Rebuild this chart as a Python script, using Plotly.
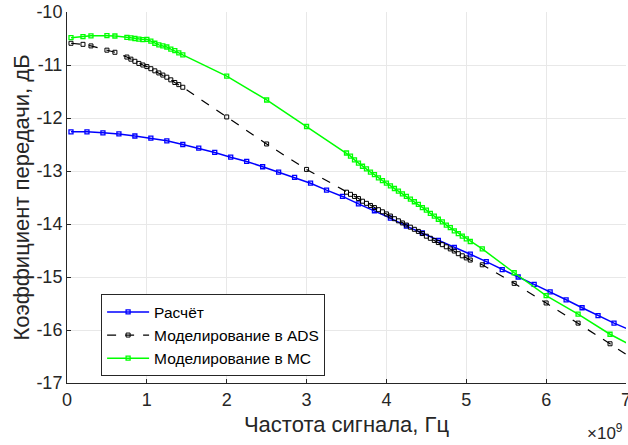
import plotly.graph_objects as go

# Frequency grid for the analytical curve (GHz, axis scaled by 1e9)
f_calc = [0.05, 0.25, 0.45, 0.65, 0.85, 1.05, 1.25, 1.45, 1.65, 1.85, 2.05, 2.25,
          2.45, 2.65, 2.85, 3.05, 3.25, 3.45, 3.65, 3.85, 4.05, 4.25, 4.45, 4.65,
          4.85, 5.05, 5.25, 5.45, 5.65, 5.85, 6.05, 6.25, 6.45, 6.65, 6.85, 7.05]
s_calc = [-12.26, -12.26, -12.28, -12.30, -12.34, -12.38, -12.43, -12.50, -12.57, -12.65,
          -12.74, -12.82, -12.92, -13.02, -13.12, -13.23, -13.36, -13.48, -13.62, -13.75,
          -13.89, -14.04, -14.17, -14.31, -14.44, -14.57, -14.71, -14.86, -15.00, -15.14,
          -15.28, -15.43, -15.58, -15.73, -15.87, -16.00]

# Frequency grid for the simulations
f_sim = [0.05, 0.2, 0.3, 0.5, 0.6, 0.75, 0.8, 0.85, 0.9, 0.95, 1.0, 1.05, 1.1, 1.15,
         1.2, 1.25, 1.3, 1.35, 1.4, 1.45, 2.0, 2.5, 3.0, 3.5, 3.55, 3.6, 3.65, 3.7,
         3.75, 3.8, 3.85, 3.9, 3.95, 4.0, 4.05, 4.1, 4.15, 4.2, 4.25, 4.3, 4.35, 4.4,
         4.45, 4.5, 4.55, 4.6, 4.65, 4.7, 4.75, 4.8, 4.85, 4.9, 4.95, 5.0, 5.05, 5.2,
         5.6, 6.0, 6.4, 6.8, 7.2]
s_ads = [-10.59, -10.61, -10.64, -10.72, -10.76, -10.85, -10.89, -10.93, -10.97, -11.00,
         -11.03, -11.07, -11.11, -11.15, -11.19, -11.23, -11.28, -11.33, -11.37, -11.42,
         -11.98, -12.49, -12.97, -13.40, -13.44, -13.48, -13.52, -13.57, -13.61, -13.65,
         -13.69, -13.73, -13.77, -13.81, -13.85, -13.90, -13.94, -13.98, -14.02, -14.06,
         -14.10, -14.14, -14.18, -14.23, -14.27, -14.31, -14.35, -14.39, -14.43, -14.47,
         -14.51, -14.56, -14.60, -14.64, -14.68, -14.77, -15.12, -15.49, -15.87, -16.26,
         -16.66]
s_mc = [-10.485, -10.466, -10.45, -10.447, -10.453, -10.477, -10.49, -10.50, -10.51, -10.52,
        -10.515, -10.55, -10.59, -10.62, -10.64, -10.66, -10.70, -10.73, -10.77, -10.81,
        -11.21, -11.66, -12.16, -12.66, -12.72, -12.79, -12.85, -12.91, -12.96, -13.02,
        -13.07, -13.13, -13.18, -13.23, -13.28, -13.33, -13.38, -13.43, -13.48, -13.53,
        -13.58, -13.63, -13.69, -13.74, -13.80, -13.85, -13.91, -13.96, -14.02, -14.07,
        -14.13, -14.18, -14.23, -14.28, -14.33, -14.47, -14.92, -15.35, -15.70, -16.08,
        -16.40]

names = ["Расчёт", "Моделирование в ADS", "Моделирование в MC"]
x_ticks = [0, 1, 2, 3, 4, 5, 6, 7]
y_ticks = [-17, -16, -15, -14, -13, -12, -11, -10]

FONT = "Liberation Sans, Arial, sans-serif"
TXT = "#262626"

fig = go.Figure()
fig.add_trace(go.Scatter(x=f_calc, y=s_calc, name=names[0], mode="lines+markers",
                         line=dict(color="#0000ff", width=1.5),
                         marker=dict(symbol="square-open", size=4, color="#0000ff",
                                     line=dict(width=1.3))))
fig.add_trace(go.Scatter(x=f_sim, y=s_ads, name=names[1], mode="lines+markers",
                         line=dict(color="#000000", width=1.2, dash="dash"),
                         marker=dict(symbol="square-open", size=4, color="#000000",
                                     line=dict(width=1))))
fig.add_trace(go.Scatter(x=f_sim, y=s_mc, name=names[2], mode="lines+markers",
                         line=dict(color="#00ff00", width=1.5),
                         marker=dict(symbol="square-open", size=4, color="#00ff00",
                                     line=dict(width=1.3))))

fig.update_layout(
    width=628, height=445,
    margin=dict(l=67, r=2, t=12, b=62),
    paper_bgcolor="white", plot_bgcolor="white",
    font=dict(family=FONT, color=TXT),
    showlegend=True,
    legend=dict(x=0.061, y=0.018, xanchor="left", yanchor="bottom",
                bgcolor="white", bordercolor=TXT, borderwidth=1,
                font=dict(size=15.5, color="#000000"),
                tracegroupgap=0, itemwidth=42),
    xaxis=dict(range=[0, 7], tickvals=x_ticks, ticktext=[str(v) for v in x_ticks],
               automargin=False, ticklabeloverflow="allow",
               showgrid=True, gridcolor="#e8e8e8", gridwidth=1,
               showline=True, linecolor=TXT, linewidth=1,
               ticks="inside", ticklen=4, tickcolor=TXT,
               tickfont=dict(size=18, color=TXT),
               zeroline=False,
               title=dict(text="Частота сигнала, Гц", font=dict(size=22, color=TXT),
                          standoff=8)),
    yaxis=dict(range=[-17, -10], tickvals=y_ticks, ticktext=[str(v) for v in y_ticks],
               automargin=False, ticklabeloverflow="allow",
               showgrid=True, gridcolor="#e8e8e8", gridwidth=1,
               showline=True, linecolor=TXT, linewidth=1,
               ticks="inside", ticklen=4, tickcolor=TXT,
               tickfont=dict(size=18, color=TXT),
               zeroline=False,
               title=dict(text="Коэффициент передачи, дБ", font=dict(size=22, color=TXT),
                          standoff=0)),
)
fig.add_annotation(x=0.998, y=-0.132, xref="paper", yref="paper", xanchor="right",
                   yanchor="middle", showarrow=False,
                   text="×10<sup>9</sup>", font=dict(size=17, color=TXT))

# Remove the default 8px body margin so the figure fills the window exactly.
fig.write_html("out.html",
               config={"displayModeBar": False},
               post_script="document.body.style.margin='0';document.body.style.overflow='hidden';")
